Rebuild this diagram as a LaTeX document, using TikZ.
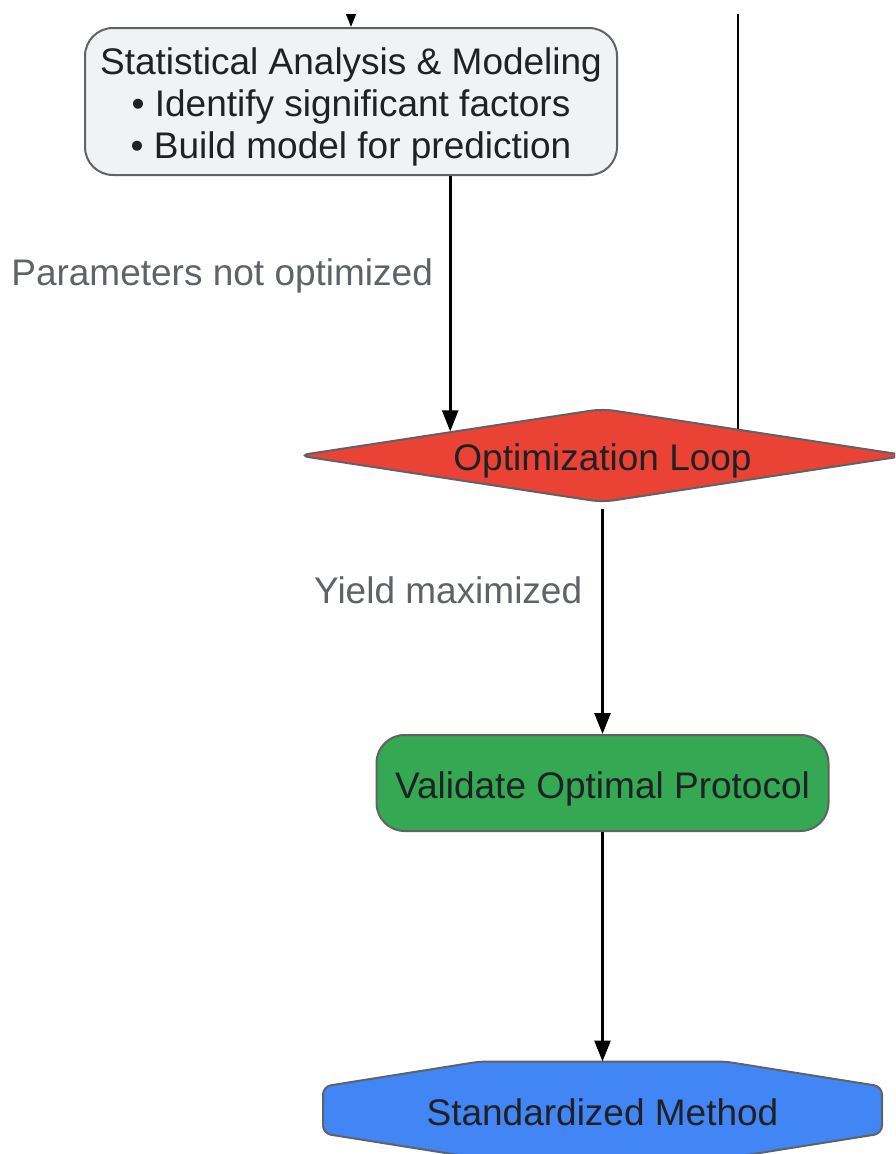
\documentclass[tikz,border=0pt]{standalone}
\usepackage{fontspec}
\setmainfont{Liberation Sans}
\usetikzlibrary{arrows.meta,shapes.geometric,calc,backgrounds}
\definecolor{boxgray}{HTML}{F1F2F4}
\definecolor{edgegray}{HTML}{5F6368}
\definecolor{inkdark}{HTML}{202124}
\definecolor{loopred}{HTML}{EA4335}
\definecolor{okgreen}{HTML}{34A853}
\definecolor{stdblue}{HTML}{4285F4}
\begin{document}
\begin{tikzpicture}[x=1pt, y=-1pt,
		every node/.style={font=\fontsize{37}{42}\selectfont, text=inkdark},
		box/.style={draw=edgegray, line width=2pt, rounded corners=28pt, align=center, inner sep=0pt},
		oneline/.style={text height=35pt, text depth=5pt},
		flow/.style={-{Triangle[length=21pt,width=16pt]}, line width=2.6pt},
		lbl/.style={text=edgegray, inner sep=0pt, oneline}]
		\useasboundingbox (0,0) rectangle (895,1154);
		\clip (0,14) rectangle (895,1154);
		% the boxes
		\node[box, fill=boxgray, minimum width=532pt, minimum height=147pt] (stat) at (351,101.5)
			{\rule{0pt}{37pt}Statistical Analysis \& Modeling\\• Identify significant factors\\• Build model for prediction};
		\node[diamond, draw=edgegray, line width=2pt, fill=loopred, rounded corners=12pt, inner sep=0pt, oneline,
			aspect=6.5, minimum width=610pt, minimum height=94pt] (loop) at (602.5,455.5) {Optimization Loop};
		\node[box, oneline, fill=okgreen, minimum width=452pt, minimum height=96pt] (valid) at (602.5,783) {Validate Optimal Protocol};
		\node[oneline, inner sep=0pt, outer sep=0pt, minimum width=559pt, minimum height=97pt] (std) at (602.5,1110) {Standardized Method};
		\begin{scope}[on background layer]
			\draw[draw=edgegray, line width=2pt, fill=stdblue, rounded corners=8pt]
				($(std.north west)+(157,0)$) -- ($(std.north east)+(-157,0)$) -- ($(std.north east)+(0,25)$)
				-- ($(std.south east)+(0,-25)$) -- ($(std.south east)+(-157,0)$) -- ($(std.south west)+(157,0)$)
				-- ($(std.south west)+(0,-25)$) -- ($(std.north west)+(0,25)$) -- cycle;
		\end{scope}
		% the connectors
		\coordinate (feed) at (351,0);
		\coordinate (back) at (738,0);
		\draw[flow] (feed) -- (stat);
		\draw[line width=2.6pt] (back) -- (back |- loop.11);
		\draw[flow] (loop.171.2 |- stat.south) -- node[lbl, pos=0.37, left=16pt] (notopt) {Parameters not optimized} (loop.171.2);
		\draw[flow, shorten <=5pt] (loop) -- node[lbl, pos=0.37, left=19pt] (maxed) {Yield maximized} (valid);
		\draw[flow] (valid) -- (std);
	\end{tikzpicture}
\end{document}
